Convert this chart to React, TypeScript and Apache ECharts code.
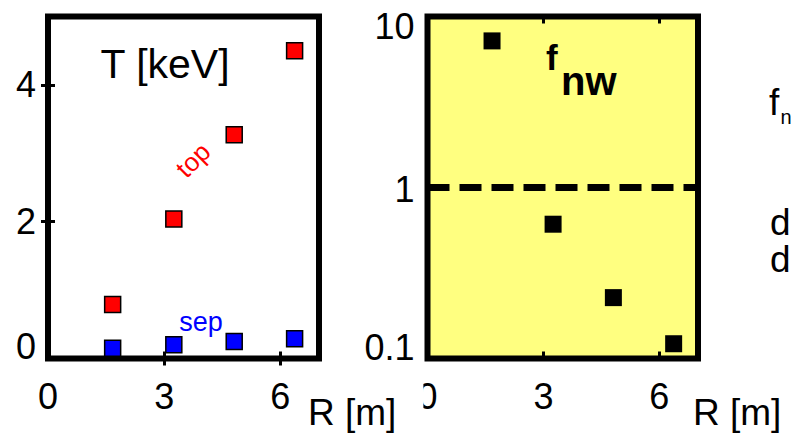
import React, { useEffect, useRef } from "react";
import * as echarts from "echarts";

// Major radius R [m] of the four devices
const radius = [1.67, 3.25, 4.81, 6.37];
// Temperature at pedestal top and at separatrix [keV]
const tempTop = [0.79, 2.04, 3.27, 4.5];
const tempSep = [0.15, 0.2, 0.25, 0.29];
// f_nw values (log scale)
const fnw = [7.2, 0.61, 0.227, 0.122];

const xLabelValues = [0, 3, 6];
const xTickValues = [3, 6];
const tLabelValues = [0, 2, 4];
const tTickValues = [2, 4];
const fnwThreshold = 1;

const FONT = "'Liberation Sans', Arial, Helvetica, sans-serif";

export default function App() {
  const ref = useRef<HTMLDivElement>(null);

  useEffect(() => {
    if (!ref.current) return;
    const chart = echarts.init(ref.current, undefined, { renderer: "svg" });

    const tickStyle = { show: true, inside: true, length: 7, lineStyle: { color: "#000", width: 3 } };
    const labelBase = { color: "#000", fontFamily: FONT, fontSize: 36 };

    const pair = (ys: number[]) => radius.map((r, i) => [r, ys[i]]);

    chart.setOption({
      animation: false,
      backgroundColor: "#fff",
      grid: [
        { left: 48, top: 16.5, width: 271, height: 342, show: true, borderColor: "#000", borderWidth: 6, backgroundColor: "#fff" },
        { left: 427.5, top: 16.5, width: 270.5, height: 342, show: true, borderColor: "#000", borderWidth: 6, backgroundColor: "#FFFF80" },
      ],
      xAxis: [
        {
          gridIndex: 0, type: "value", min: 0, max: 7, position: "bottom",
          axisLine: { show: false }, splitLine: { show: false },
          axisTick: { ...tickStyle, customValues: xTickValues },
          axisLabel: { ...labelBase, margin: 20, customValues: xLabelValues },
        },
        {
          gridIndex: 0, type: "value", min: 0, max: 7, position: "top",
          axisLine: { show: false }, splitLine: { show: false },
          axisTick: { ...tickStyle, customValues: xTickValues },
          axisLabel: { show: false },
        },
        {
          gridIndex: 1, type: "value", min: 0, max: 7, position: "bottom",
          axisLine: { show: false }, splitLine: { show: false },
          axisTick: { ...tickStyle, customValues: xTickValues },
          axisLabel: { ...labelBase, margin: 20, customValues: xLabelValues },
        },
        {
          gridIndex: 1, type: "value", min: 0, max: 7, position: "top",
          axisLine: { show: false }, splitLine: { show: false },
          axisTick: { ...tickStyle, customValues: xTickValues },
          axisLabel: { show: false },
        },
      ],
      yAxis: [
        {
          gridIndex: 0, type: "value", min: 0, max: 5, position: "left",
          axisLine: { show: false }, splitLine: { show: false },
          axisTick: { ...tickStyle, customValues: tTickValues },
          axisLabel: {
            ...labelBase, margin: 12, customValues: tLabelValues,
            formatter: (v: number) => (v === 0 ? "{lo|0}" : "{n|" + v + "}"),
            rich: {
              lo: { ...labelBase, padding: [0, 0, 24, 0] },
              n: { ...labelBase },
            },
          },
        },
        {
          gridIndex: 0, type: "value", min: 0, max: 5, position: "right",
          axisLine: { show: false }, splitLine: { show: false },
          axisTick: { ...tickStyle, customValues: tTickValues },
          axisLabel: { show: false },
        },
        {
          gridIndex: 1, type: "log", logBase: 10, min: 0.1, max: 10, position: "left",
          axisLine: { show: false }, splitLine: { show: false },
          axisTick: { show: false },
          axisLabel: {
            ...labelBase, margin: 13,
            formatter: (v: number) => {
              if (Math.abs(v - 10) < 1e-6) return "{hi|10}";
              if (Math.abs(v - 0.1) < 1e-6) return "{lo|0.1}";
              return "{n|" + v + "}";
            },
            rich: {
              hi: { ...labelBase, padding: [20, 0, 0, 0] },
              lo: { ...labelBase, padding: [0, 0, 22, 0] },
              n: { ...labelBase, padding: [4, 0, 0, 0] },
            },
          },
        },
      ],
      series: [
        {
          name: "top", type: "scatter", xAxisIndex: 0, yAxisIndex: 0,
          symbol: "rect", symbolSize: 16,
          itemStyle: { color: "#FF0000", borderColor: "#000", borderWidth: 1.5, opacity: 1 },
          data: pair(tempTop),
        },
        {
          name: "sep", type: "scatter", xAxisIndex: 0, yAxisIndex: 0,
          symbol: "rect", symbolSize: 16,
          itemStyle: { color: "#0000FF", borderColor: "#000", borderWidth: 1.5, opacity: 1 },
          data: pair(tempSep),
        },
        {
          name: "fnw", type: "scatter", xAxisIndex: 2, yAxisIndex: 2,
          symbol: "rect", symbolSize: 17,
          itemStyle: { color: "#000", opacity: 1 },
          data: pair(fnw),
          markLine: {
            silent: true, symbol: "none", label: { show: false },
            lineStyle: { color: "#000", width: 7, type: [22, 10] },
            data: [{ yAxis: fnwThreshold }],
          },
        },
      ],
      graphic: [
        { type: "text", z: 100, x: 165, y: 64, style: { text: "T [keV]", fill: "#000", font: `41px ${FONT}`, textAlign: "center", textVerticalAlign: "middle" } },
        { type: "text", z: 100, x: 193, y: 160, rotation: Math.PI / 4, style: { text: "top", fill: "#FF0000", font: `26px ${FONT}`, textAlign: "center", textVerticalAlign: "middle" } },
        { type: "text", z: 100, x: 201, y: 322, style: { text: "sep", fill: "#0000FF", font: `27px ${FONT}`, textAlign: "center", textVerticalAlign: "middle" } },
        { type: "text", z: 100, x: 546, y: 57, style: { text: "f", fill: "#000", font: `bold 35px ${FONT}`, textAlign: "left", textVerticalAlign: "middle" } },
        { type: "text", z: 100, x: 561, y: 81, style: { text: "nw", fill: "#000", font: `bold 40px ${FONT}`, textAlign: "left", textVerticalAlign: "middle" } },
        {
          type: "text", z: 100, x: 306, y: 374,
          style: { text: "R [m]", fill: "#000", font: `37px ${FONT}`, textAlign: "left", textVerticalAlign: "top", lineHeight: 37, backgroundColor: "#fff", padding: [20, 27, 0, 2] },
        },
        { type: "text", z: 100, x: 693, y: 394, style: { text: "R [m]", fill: "#000", font: `37px ${FONT}`, textAlign: "left", textVerticalAlign: "top", lineHeight: 37 } },
        { type: "text", z: 100, x: 769, y: 102, style: { text: "f", fill: "#000", font: `37px ${FONT}`, textAlign: "left", textVerticalAlign: "middle" } },
        { type: "text", z: 100, x: 780.5, y: 117, style: { text: "n", fill: "#000", font: `20px ${FONT}`, textAlign: "left", textVerticalAlign: "middle" } },
        { type: "text", z: 100, x: 770, y: 222, style: { text: "d", fill: "#000", font: `37px ${FONT}`, textAlign: "left", textVerticalAlign: "middle" } },
        { type: "text", z: 100, x: 770, y: 259, style: { text: "d", fill: "#000", font: `37px ${FONT}`, textAlign: "left", textVerticalAlign: "middle" } },
      ],
    });

    return () => chart.dispose();
  }, []);

  return <div ref={ref} style={{ position: "fixed", left: 0, top: 0, width: 792, height: 435 }} />;
}
